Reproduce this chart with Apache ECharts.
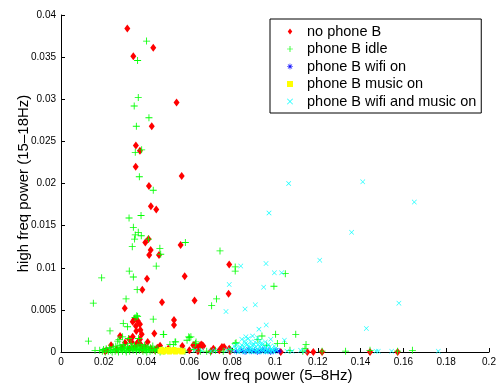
<!DOCTYPE html>
<html><head><meta charset="utf-8">
<script src="https://cdn.jsdelivr.net/npm/echarts@6/dist/echarts.min.js"></script>
<style>html,body{margin:0;padding:0;background:#fff}#c{width:501px;height:386px}</style>
</head><body><div id="c"></div>
<script>
const seriesNames = ['no phone B','phone B idle','phone B wifi on','phone B music on','phone B wifi and music on'];
const xTicks = {min:0, max:0.2, interval:0.02};
const yTicks = {min:0, max:0.04, interval:0.005};
const xTitle = 'low freq power (5–8Hz)';
const yTitle = 'high freq power (15–18Hz)';

const noPhoneB = [
 [0.0310,0.0384],[0.0431,0.0361],[0.0338,0.0351],[0.0540,0.0296],[0.0424,0.0268],[0.0350,0.0245],[0.0369,0.0239],
 [0.0349,0.0220],[0.0564,0.0209],[0.0411,0.0197],[0.0420,0.0173],[0.0445,0.0169],[0.0409,0.0134],[0.0394,0.0130],
 [0.0559,0.0127],[0.0419,0.0121],[0.0412,0.0115],[0.0458,0.0115],[0.0402,0.0087],[0.0578,0.0090],[0.0380,0.0074],
 [0.0298,0.0052],[0.0472,0.0059],[0.0624,0.0061],[0.0786,0.0104],[0.0783,0.0069],
 [0.0343,0.0039],[0.0358,0.0037],[0.0335,0.0036],[0.0369,0.0033],[0.0350,0.0031],[0.0371,0.0026],[0.0377,0.0021],
 [0.0369,0.0015],[0.0354,0.00095],[0.0436,0.0022],[0.0528,0.0038],[0.0528,0.0032],[0.0276,0.0019],[0.0234,0.0008],
 [0.0319,0.0015],[0.0567,0.0007],[0.0623,0.0008],[0.0646,0.0007],[0.0660,0.0008],[0.0762,0.0006],[0.0786,0.0004],
 [0.0618,0.0008],[0.0634,0.0006],[0.0655,0.0009],[0.0665,0.0007],[0.0752,0.0006],[0.0712,0.0004],[0.0405,0.0012],
 [0.0463,0.00075],[0.0501,0.0004],[0.0299,0.0011],[0.0213,0.0002],[0.0330,0.0012],[0.0393,0.0006],[0.0439,0.0002],
 [0.0206,0.0001],[0.1027,0],[0.1151,0],[0.1179,0],[0.1220,0],[0.1444,0],[0.1573,0],[0.0600,0.0002],[0.0640,0.0001],
 [0.0700,0.0001],[0.0740,0.0002],[0.0790,0.0001],[0.0260,0.0003],[0.0285,0.0005],[0.0320,0.0004],[0.0345,0.0006],
 [0.0380,0.0003],[0.0420,0.0004],[0.0450,0.0005],[0.0335,0.0018],[0.0352,0.0025],[0.0360,0.0012],[0.0372,0.0009]
];
const phoneBIdle = [
 [0.0400,0.0369],[0.0358,0.0346],[0.0361,0.0302],[0.0342,0.0292],[0.0411,0.0278],[0.0352,0.0268],[0.0377,0.0240],
 [0.0347,0.0237],[0.0366,0.0208],[0.0431,0.0192],[0.0318,0.0159],[0.0374,0.0162],[0.0338,0.0148],[0.0361,0.0142],
 [0.0347,0.0139],[0.0375,0.0138],[0.0344,0.0134],[0.0409,0.0134],[0.0333,0.0125],[0.0581,0.0130],[0.0462,0.0123],
 [0.0466,0.0116],[0.0445,0.0102],[0.0319,0.0096],[0.0338,0.0089],[0.0190,0.0088],[0.0356,0.0074],[0.0304,0.0063],
 [0.0151,0.0058],[0.0743,0.0120],[0.0727,0.0063],[0.0704,0.0055],[0.0814,0.0101],[0.0814,0.0096],
 [0.0358,0.0042],[0.0431,0.0039],[0.0291,0.0034],[0.0229,0.0025],[0.0480,0.0021],[0.0311,0.0030],[0.0128,0.0013],
 [0.0600,0.0017],[0.0589,0.0014],[0.0265,0.0013],[0.0288,0.0018],[0.0159,0.0002],[0.0525,0.0009],[0.0814,0.0010],
 [0.0346,0.0041],[0.0354,0.0043],[0.0271,0.0015],[0.0315,0.0016],[0.0362,0.0016],[0.0478,0.0021],[0.0533,0.0012],
 [0.0597,0.0018],[0.0607,0.0018],[0.0536,0.0012],[0.0509,0.0009],[0.0631,0.0012],[0.0818,0.0011],[0.0629,0.0010],
 [0.1048,0.0093],[0.0995,0.0078],[0.0939,0.0019],[0.1003,0.0021],[0.1097,0.0021],[0.1011,0.0010],[0.1044,0.0010],
 [0.1070,0.0002],[0.1145,0.0009],[0.1140,0.0004],[0.1130,0.0001],[0.1220,0.0001],[0.1330,0.0001],[0.1444,0.0002],
 [0.1573,0.0001],[0.1642,0.0002],[0.0920,0.0015],[0.0960,0.0008],
 [0.0181,0.0002],[0.0193,0.0001],[0.0199,0.0003],[0.0207,0.0000],[0.0211,0.0004],[0.0221,0.0001],[0.0226,0.0005],
 [0.0231,0.0002],[0.0239,0.0000],[0.0244,0.0006],[0.0247,0.0003],[0.0253,0.0001],[0.0256,0.0007],[0.0263,0.0004],
 [0.0267,0.0002],[0.0269,0.0000],[0.0275,0.0008],[0.0279,0.0005],[0.0281,0.0003],[0.0287,0.0001],[0.0291,0.0009],
 [0.0293,0.0006],[0.0297,0.0004],[0.0303,0.0002],[0.0305,0.0000],[0.0311,0.0007],[0.0313,0.0005],[0.0319,0.0003],
 [0.0321,0.0001],[0.0327,0.0010],[0.0329,0.0006],[0.0335,0.0004],[0.0337,0.0002],[0.0343,0.0008],[0.0345,0.0005],
 [0.0351,0.0003],[0.0353,0.0001],[0.0359,0.0007],[0.0361,0.0004],[0.0367,0.0002],[0.0369,0.0009],[0.0375,0.0006],
 [0.0377,0.0003],[0.0383,0.0001],[0.0385,0.0005],[0.0391,0.0008],[0.0393,0.0002],[0.0399,0.0004],[0.0401,0.0000],
 [0.0407,0.0006],[0.0409,0.0003],[0.0416,0.0001],[0.0419,0.0005],[0.0426,0.0002],[0.0429,0.0007],[0.0437,0.0003],
 [0.0441,0.0001],[0.0449,0.0004],[0.0454,0.0002],[0.0463,0.0000],[0.0469,0.0003],[0.0481,0.0001],[0.0489,0.0002],
 [0.0561,0.0002],[0.0579,0.0001],[0.0621,0.0003],[0.0651,0.0001],[0.0681,0.0001],[0.0699,0.0000],[0.0722,0.0002],
 [0.0758,0.0001],[0.0791,0.0003]
];
const phoneBWifiOn = [
 [0.0820,0.0001],[0.0845,0.0002],[0.0860,0.0000],[0.0875,0.0003],[0.0890,0.0001],[0.0905,0.0002],[0.0918,0.0000],
 [0.0930,0.0001],[0.0942,0.0003],[0.0955,0.0001],[0.0968,0.0002],[0.0980,0.0000],[0.0992,0.0001],[0.1005,0.0002],
 [0.1020,0.0001]
];
const phoneBMusicOn = [
 [0.0463,0.0001],[0.0470,0.0003],[0.0478,0.0000],[0.0485,0.0002],[0.0492,0.0001],[0.0500,0.0003],[0.0507,0.0000],
 [0.0514,0.0002],[0.0521,0.0001],[0.0528,0.0003],[0.0535,0.0000],[0.0542,0.0002],[0.0550,0.0001],[0.0557,0.0002],
 [0.0564,0.0000],[0.0570,0.0001]
];
const phoneBWifiMusicOn = [
 [0.0972,0.0165],[0.1651,0.0178],[0.1358,0.0142],[0.1209,0.0109],[0.0958,0.0105],[0.0997,0.0094],[0.1031,0.0094],
 [0.0947,0.0077],[0.1579,0.0058],[0.0908,0.0056],[0.1427,0.0028],[0.0959,0.0032],[0.0925,0.0027],[0.0980,0.0015],
 [0.1044,0.0014],[0.0936,0.0010],[0.1064,0.0200],[0.1410,0.0202],[0.0840,0.0102],[0.0786,0.0080],[0.0771,0.0048],
 [0.0860,0.0051],[0.0864,0.0018],[0.0886,0.0012],[0.0907,0.0012],[0.0930,0.0013],[0.0858,0.0013],[0.0871,0.0009],
 [0.0880,0.0005],[0.0895,0.0008],[0.0912,0.0006],[0.0921,0.0009],[0.0940,0.0004],[0.0952,0.0007],[0.0966,0.0003],
 [0.0975,0.0006],[0.0990,0.0002],[0.1002,0.0004],[0.0850,0.0003],[0.0838,0.0006],[0.0826,0.0002],[0.0815,0.0004],
 [0.0803,0.0001],[0.0868,0.0002],[0.0884,0.0001],[0.0899,0.0003],[0.0915,0.0001],[0.0933,0.0002],[0.0947,0.0001],
 [0.0961,0.0002],[0.0978,0.0001],[0.0995,0.0000],[0.1545,0.0001],[0.1472,0.0001],[0.1483,0.0001],[0.1763,0.0001],
 [0.1056,0.0001],[0.1080,0.0001],[0.1120,0.0002],[0.1140,0.0001],[0.0626,0.0002],[0.0657,0.0002],[0.0774,0.0002],
 [0.0790,0.0003],[0.0700,0.0001],[0.0720,0.0002],
 [0.0810,0.0007],[0.0822,0.0009],[0.0833,0.0004],[0.0845,0.0008],[0.0855,0.0006],[0.0862,0.0010],[0.0877,0.0007],
 [0.0890,0.0004],[0.0903,0.0009],[0.0917,0.0003],[0.0928,0.0006],[0.0937,0.0008],[0.0958,0.0005],[0.0970,0.0009],
 [0.0984,0.0004],[0.0997,0.0007],[0.1008,0.0002],[0.0828,0.0000],[0.0842,0.0001],[0.0857,0.0000],[0.0873,0.0001],
 [0.0892,0.0000],[0.0908,0.0001],[0.0925,0.0000],[0.0941,0.0002],[0.0957,0.0000],[0.0972,0.0001],[0.0988,0.0002],
 [0.0845,0.0015],[0.0875,0.0016],[0.0895,0.0019],[0.0918,0.0017],[0.0955,0.0012]
];

const plusPath = 'path://M4.4,0H5.6V4.4H10V5.6H5.6V10H4.4V5.6H0V4.4H4.4Z';
const xPath = 'path://M0,0.8L0.8,0L5,4.2L9.2,0L10,0.8L5.8,5L10,9.2L9.2,10L5,5.8L0.8,10L0,9.2L4.2,5Z';
const starPath = 'path://M4.5,0H5.5V4.5H10V5.5H5.5V10H4.5V5.5H0V4.5H4.5Z M1.2,1.9L1.9,1.2L5,4.3L8.1,1.2L8.8,1.9L5.7,5L8.8,8.1L8.1,8.8L5,5.7L1.9,8.8L1.2,8.1L4.3,5Z';
const diamondPath = 'path://M3,0L6,4L3,8L0,4Z';

const chart = echarts.init(document.getElementById('c'));
const font = 'Liberation Sans, Arial, Helvetica, sans-serif';
function axisCommon(){
  return {
    axisLine:{show:true,onZero:false,lineStyle:{color:'#000',width:1}},
    axisTick:{show:true,inside:true,length:4,lineStyle:{color:'#000'}},
    splitLine:{show:false},
    axisLabel:{color:'#000',fontSize:10,fontFamily:font,margin:5},
    nameTextStyle:{color:'#000',fontSize:15,fontFamily:font},
    nameLocation:'middle',
    nameMoveOverlap:false
  };
}
const mk = (name,data,symbol,size,color) => ({
  name, type:'scatter', data, symbol, symbolSize:size,
  itemStyle:{color, opacity:1}, emphasis:{disabled:true}, silent:true, animation:false
});
chart.setOption({
  animation:false,
  grid:{left:61,right:12,top:15,bottom:34,containLabel:false,outerBoundsMode:'none'},
  xAxis:Object.assign(axisCommon(),{type:'value',min:xTicks.min,max:xTicks.max,interval:xTicks.interval,name:xTitle,nameGap:16}),
  yAxis:Object.assign(axisCommon(),{type:'value',min:yTicks.min,max:yTicks.max,interval:yTicks.interval,name:yTitle,nameGap:30}),
  legend:{
    orient:'vertical', left:270, top:19,
    backgroundColor:'#fff', borderColor:'#000', borderWidth:1,
    padding:[5,5,4,17], itemGap:2.5, itemWidth:6, itemHeight:6,
    textStyle:{color:'#000',fontSize:14.5,fontFamily:font,lineHeight:14,padding:[0,0,0,9]},
    data:seriesNames
  },
  series:[
    mk(seriesNames[0],noPhoneB,diamondPath,[6,8],'#ff0000'),
    mk(seriesNames[1],phoneBIdle,plusPath,7,'#00ff00'),
    mk(seriesNames[2],phoneBWifiOn,starPath,6,'#0000ff'),
    mk(seriesNames[3],phoneBMusicOn,'rect',5,'#ffff00'),
    mk(seriesNames[4],phoneBWifiMusicOn,xPath,5,'#00ffff')
  ]
});
</script></body></html>
